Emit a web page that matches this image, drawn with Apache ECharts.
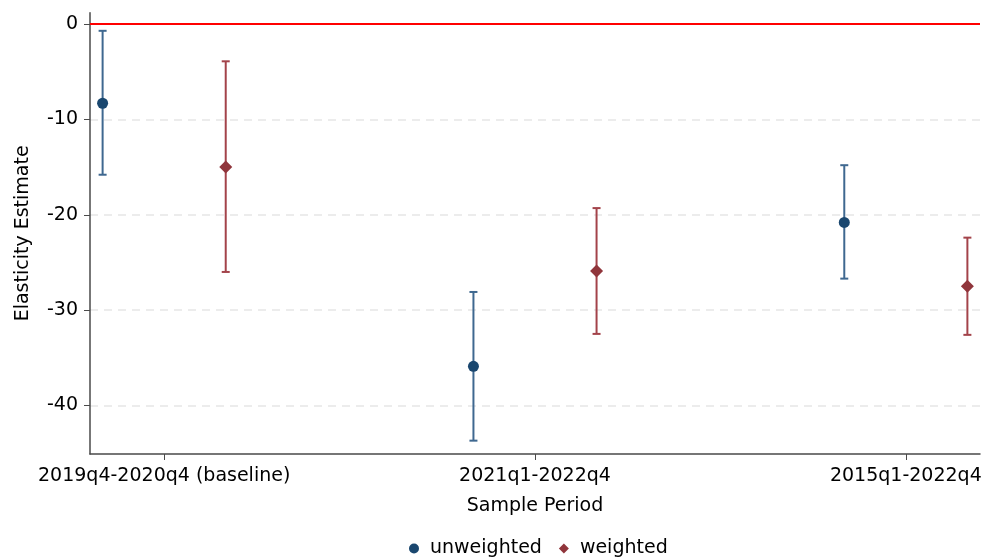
<!DOCTYPE html>
<html>
<head>
<meta charset="utf-8">
<script src="https://cdn.jsdelivr.net/npm/echarts@6/dist/echarts.min.js"></script>
<style>html,body{margin:0;padding:0;background:#fff}#c{width:982px;height:559px}</style>
</head>
<body>
<div id="c"></div>
<script>
const categories = ['2019q4-2020q4 (baseline)', '2021q1-2022q4', '2015q1-2022q4'];
const categoryPos = [1, 2, 3];
const unweightedEst = [-8.3, -35.9, -20.8];
const unweightedLo = [-15.8, -43.7, -26.7];
const unweightedHi = [-0.7, -28.1, -14.8];
const weightedEst = [-15.0, -25.9, -27.5];
const weightedLo = [-26.0, -32.5, -32.6];
const weightedHi = [-3.9, -19.3, -22.4];
const yTicks = [-40, -30, -20, -10, 0];

const OFFSET = 0.166;
const FONT = 'DejaVu Sans';
const blue = '#1a476f', blueCI = '#3f6890';
const red = '#90353b', redCI = '#a3434a';
const axisColor = '#4a4a4a';

function ciData(lo, hi, shift) {
  return categoryPos.map((p, i) => [p + shift, lo[i], hi[i]]);
}
function ptData(est, shift) {
  return categoryPos.map((p, i) => [p + shift, est[i]]);
}
function errRender(color) {
  return function (params, api) {
    const x = api.value(0);
    const lo = api.coord([x, api.value(1)]);
    const hi = api.coord([x, api.value(2)]);
    const w = 4;
    const style = { stroke: color, lineWidth: 2 };
    return {
      type: 'group',
      children: [
        { type: 'line', shape: { x1: lo[0], y1: lo[1], x2: hi[0], y2: hi[1] }, style },
        { type: 'line', shape: { x1: lo[0] - w, y1: lo[1], x2: lo[0] + w, y2: lo[1] }, style },
        { type: 'line', shape: { x1: hi[0] - w, y1: hi[1], x2: hi[0] + w, y2: hi[1] }, style }
      ]
    };
  };
}

const chart = echarts.init(document.getElementById('c'));
chart.setOption({
  animation: false,
  backgroundColor: '#fff',
  textStyle: { fontFamily: FONT },
  grid: { left: 90, right: 2, top: 12.7, bottom: 105, containLabel: false, outerBoundsMode: 'none' },
  legend: {
    bottom: -4, left: 404,
    itemWidth: 10, itemHeight: 10, itemGap: 17,
    textStyle: { fontFamily: FONT, fontSize: 19, color: '#000', padding: [0, 0, 0, 6] },
    data: ['unweighted', 'weighted']
  },
  xAxis: {
    type: 'value', min: 0.8, max: 3.2,
    name: 'Sample Period', nameLocation: 'middle', nameGap: 43,
    nameTextStyle: { fontFamily: FONT, fontSize: 19, color: '#000' },
    axisLine: { show: true, onZero: false, lineStyle: { color: axisColor, width: 1.5 } },
    axisTick: { show: true, length: 6, customValues: categoryPos, lineStyle: { color: axisColor } },
    axisLabel: {
      customValues: categoryPos, margin: 13,
      fontFamily: FONT, fontSize: 19, color: '#000',
      formatter: v => categories[categoryPos.indexOf(Math.round(v))] || ''
    },
    splitLine: { show: false }
  },
  yAxis: {
    type: 'value', min: -45.1, max: 1.2,
    name: 'Elasticity Estimate', nameLocation: 'middle', nameGap: 57, nameRotate: 90,
    nameTextStyle: { fontFamily: FONT, fontSize: 19, color: '#000' },
    axisLine: { show: true, onZero: false, lineStyle: { color: axisColor, width: 1.5 } },
    axisTick: { show: true, length: 6, customValues: yTicks, lineStyle: { color: axisColor } },
    axisLabel: { customValues: yTicks, margin: 12, fontFamily: FONT, fontSize: 19, color: '#000' },
    splitLine: { show: true, lineStyle: { color: '#e6e6e6', type: [8, 6], width: 1.5 } }
  },
  series: [
    {
      type: 'custom', name: 'ciU', renderItem: errRender(blueCI),
      data: ciData(unweightedLo, unweightedHi, -OFFSET), encode: { x: 0, y: [1, 2] }, z: 2
    },
    {
      type: 'custom', name: 'ciW', renderItem: errRender(redCI),
      data: ciData(weightedLo, weightedHi, OFFSET), encode: { x: 0, y: [1, 2] }, z: 2
    },
    {
      type: 'scatter', name: 'unweighted', symbol: 'circle', symbolSize: 11,
      itemStyle: { color: blue, opacity: 1 }, data: ptData(unweightedEst, -OFFSET), z: 3,
      markLine: {
        silent: true, symbol: 'none', label: { show: false },
        lineStyle: { color: '#ff0000', width: 2, type: 'solid' },
        data: [{ yAxis: 0 }]
      }
    },
    {
      type: 'scatter', name: 'weighted', symbol: 'diamond', symbolSize: 13,
      itemStyle: { color: red, opacity: 1 }, data: ptData(weightedEst, OFFSET), z: 3
    }
  ]
});
</script>
</body>
</html>
